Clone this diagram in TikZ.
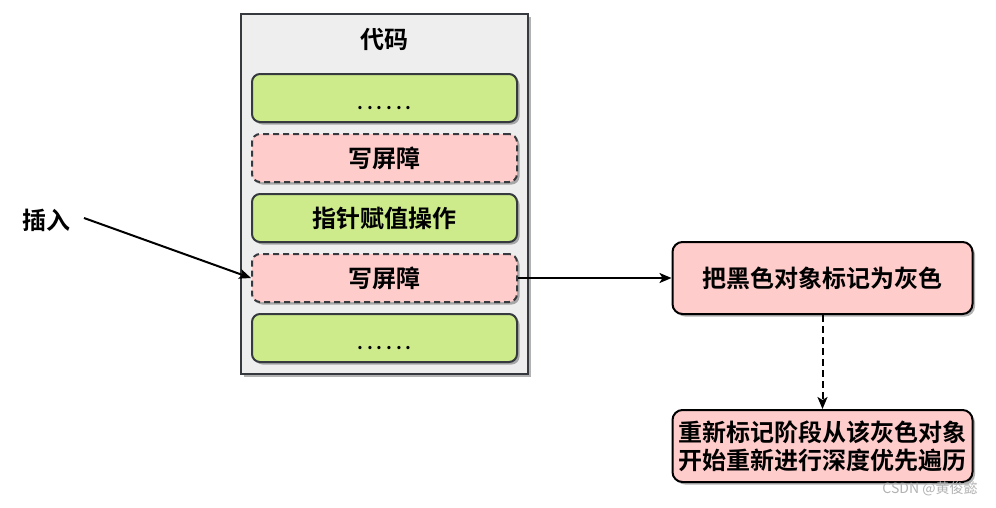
\documentclass[tikz,border=0pt]{standalone}
\usepackage{fontspec}
\setmainfont{Noto Sans CJK SC}[BoldFont={Noto Sans CJK SC Bold}]
\usetikzlibrary{shadows,arrows.meta}
\definecolor{grn}{HTML}{CDEB8B}
\definecolor{pnk}{HTML}{FFCCCC}
\definecolor{edgec}{HTML}{36393D}
\definecolor{cont}{HTML}{EEEEEE}
\begin{document}
\begin{tikzpicture}[x=1pt,y=-1pt,
  txt/.style={font=\fontsize{24}{28}\selectfont\bfseries},
  shad/.style={drop shadow={shadow xshift=2.5pt,shadow yshift=-2.5pt,opacity=0.3,fill=black}},
  codebox/.style={shape=rectangle,draw=edgec,line width=2pt,rounded corners=8pt,shad,
    minimum width=265pt,minimum height=48pt,inner sep=0pt,txt},
  greenbox/.style={codebox,fill=grn},
  barrierbox/.style={codebox,fill=pnk,dash pattern=on 6pt off 4pt},
  sidebox/.style={shape=rectangle,draw=black,line width=2pt,rounded corners=10pt,shad,fill=pnk,
    minimum width=300pt,minimum height=72pt,inner sep=0pt,txt,align=center},
  arr/.style={line width=2pt,-{Stealth[length=12pt,width=10pt,inset=3pt]}},
  dotline/.style={font=\fontsize{18}{20}\selectfont\bfseries,anchor=base,inner sep=0pt}
]
\useasboundingbox (0,0) rectangle (996,507);
\fill[white] (0,0) rectangle (996,507);

% container
\node[shape=rectangle,draw=edgec,line width=2pt,fill=cont,shad,minimum width=287pt,minimum height=360pt,inner sep=0pt] (code) at (384.5,194) {};
\node[txt] (title) at (384.5,39) {代码};

\node[greenbox] (b1) at (384.5,98) {};
\node[dotline] (d1) at (384.5,109) {\hbox to 54pt{.\hfil.\hfil.\hfil.\hfil.\hfil.}};
\node[barrierbox] (b2) at (384.5,158) {写屏障};
\node[greenbox] (b3) at (384.5,218) {指针赋值操作};
\node[barrierbox] (b4) at (384.5,278) {写屏障};
\node[greenbox] (b5) at (384.5,338) {};
\node[dotline] (d5) at (384.5,349) {\hbox to 54pt{.\hfil.\hfil.\hfil.\hfil.\hfil.}};

% insert label
\node[txt] (ins) at (46,220) {插入};
\coordinate (insstart) at (84,218);
\draw[arr] (insstart) -- (b4.west);

% right side
\node[sidebox] (gray) at (822.5,278) {把黑色对象标记为灰色};
\node[sidebox] (remark) at (822.5,446) {重新标记阶段从该灰色对象\\开始重新进行深度优先遍历};
\draw[arr] (b4.east) -- (gray.west);
\draw[arr,dash pattern=on 7pt off 4pt] (gray.south) -- (remark.north);

% watermark
\node[font=\fontsize{14}{16}\selectfont,text=black!30] (wm) at (930,489) {CSDN @黄俊懿};
\end{tikzpicture}
\end{document}
